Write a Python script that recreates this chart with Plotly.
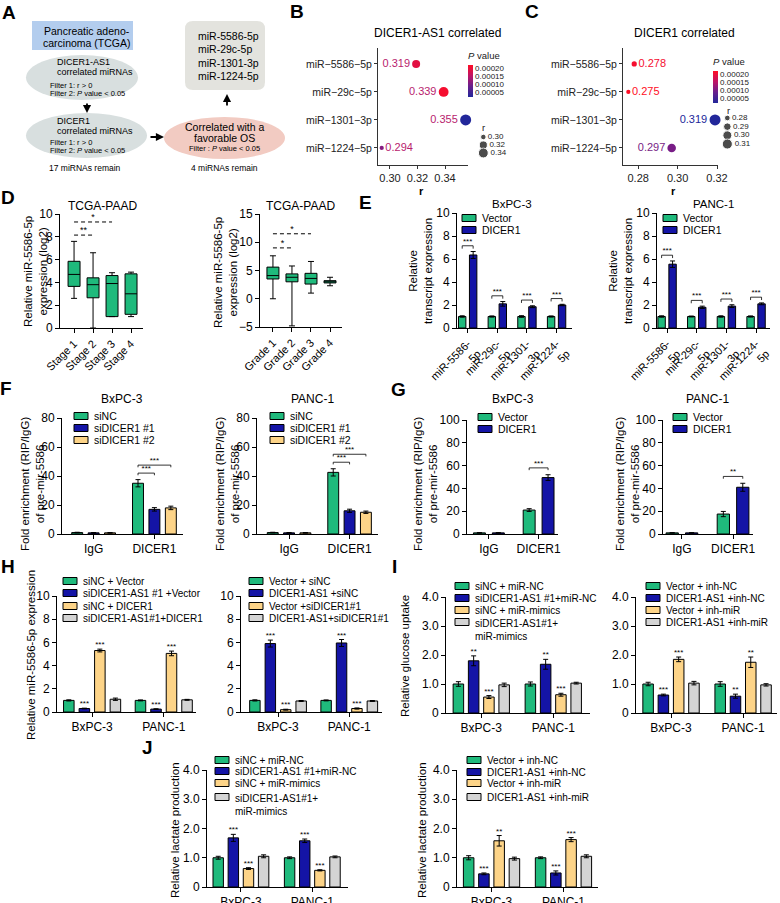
import plotly.graph_objects as go

FONT = "Liberation Sans, Arial, sans-serif"
W, H = 780, 903
GREEN = "#1fba7c"
NAVY = "#1414a6"
YELLOW = "#fdd488"
GRAY = "#d4d4d4"

# ---------------- data ----------------
# B / C dot plots
mirs = ["miR−5586−5p", "miR−29c−5p", "miR−1301−3p", "miR−1224−5p"]
b_r = [0.319, 0.339, 0.355, 0.294]
b_p = [0.00019, 0.00021, 0.00002, 0.00011]
b_size_legend = [0.30, 0.32, 0.34]
c_r = [0.278, 0.275, 0.319, 0.297]
c_p = [0.00021, 0.00022, 0.00002, 0.00010]
c_size_legend = [0.28, 0.29, 0.30, 0.31]
p_ticks = [0.00005, 0.00010, 0.00015, 0.00020]

# D box plots
stages = ["Stage 1", "Stage 2", "Stage 3", "Stage 4"]
st_low = [2.6, 0.0, 1.0, 1.0]
st_q1 = [3.65, 2.65, 1.0, 1.2]
st_med = [4.7, 3.8, 3.9, 3.0]
st_q3 = [5.85, 4.4, 4.6, 4.75]
st_high = [7.6, 6.6, 4.85, 4.9]
grades = ["Grade 1", "Grade 2", "Grade 3", "Grade 4"]
gr_low = [0.0, -4.8, 1.0, 2.3]
gr_q1 = [3.5, 3.0, 2.6, 2.8]
gr_med = [4.1, 3.8, 3.6, 3.0]
gr_q3 = [5.6, 4.4, 4.5, 3.2]
gr_high = [7.6, 5.8, 6.6, 3.8]

# E
e_groups = ["miR-5586-<br>5p", "miR-29c-<br>5p", "miR-1301-<br>3p", "miR-1224-<br>5p"]
e_names = ["Vector", "DICER1"]
e_bx_vec = [1.0, 1.0, 1.0, 1.0]
e_bx_vec_err = [0.06, 0.05, 0.07, 0.05]
e_bx_dic = [6.35, 2.1, 1.85, 2.0]
e_bx_dic_err = [0.3, 0.2, 0.08, 0.06]
e_pa_vec = [1.0, 1.0, 1.0, 1.0]
e_pa_vec_err = [0.06, 0.04, 0.06, 0.05]
e_pa_dic = [5.55, 1.8, 1.9, 2.1]
e_pa_dic_err = [0.28, 0.1, 0.12, 0.08]

# F
rip_groups = ["IgG", "DICER1"]
f_names = ["siNC", "siDICER1 #1", "siDICER1 #2"]
f_bx = [[1.0, 35.0], [0.8, 17.0], [0.8, 18.0]]
f_bx_err = [[0.2, 2.5], [0.2, 1.2], [0.2, 1.2]]
f_pa = [[1.0, 42.5], [0.8, 16.0], [0.8, 15.0]]
f_pa_err = [[0.2, 2.5], [0.2, 1.1], [0.2, 0.8]]

# G
g_names = ["Vector", "DICER1"]
g_bx = [[1.0, 21.0], [1.0, 49.5]]
g_bx_err = [[0.2, 1.2], [0.2, 2.5]]
g_pa = [[1.0, 17.5], [1.0, 41.0]]
g_pa_err = [[0.2, 2.3], [0.2, 3.5]]

cells = ["BxPC-3", "PANC-1"]
# H
h1_names = ["siNC + Vector", "siDICER1-AS1 #1 +Vector", "siNC + DICER1", "siDICER1-AS1#1+DICER1"]
h1_vals = [[1.0, 1.0], [0.3, 0.25], [5.3, 5.05], [1.1, 1.05]]
h1_err = [[0.05, 0.04], [0.03, 0.03], [0.12, 0.2], [0.1, 0.04]]
h1_stars = [["", ""], ["***", "***"], ["***", "***"], ["", ""]]
h2_names = ["Vector + siNC", "DICER1-AS1 +siNC", "Vector +siDICER1#1", "DICER1-AS1+siDICER1#1"]
h2_vals = [[1.0, 1.0], [5.9, 5.95], [0.2, 0.3], [0.95, 0.95]]
h2_err = [[0.05, 0.04], [0.3, 0.3], [0.04, 0.05], [0.04, 0.04]]
h2_stars = [["", ""], ["***", "***"], ["***", "***"], ["", ""]]
# I
mimic_names = ["siNC + miR-NC", "siDICER1-AS1 #1+miR-NC", "siNC + miR-mimics", "siDICER1-AS1#1+<br>miR-mimics"]
inh_names = ["Vector + inh-NC", "DICER1-AS1 +inh-NC", "Vector + inh-miR", "DICER1-AS1 +inh-miR"]
i1_vals = [[1.0, 1.0], [1.8, 1.68], [0.55, 0.63], [0.97, 1.03]]
i1_err = [[0.08, 0.07], [0.17, 0.17], [0.05, 0.05], [0.06, 0.03]]
i1_stars = [["", ""], ["**", "**"], ["***", "***"], ["", ""]]
i2_vals = [[1.0, 1.0], [0.62, 0.58], [1.85, 1.75], [1.03, 0.97]]
i2_err = [[0.06, 0.08], [0.03, 0.07], [0.08, 0.18], [0.06, 0.04]]
i2_stars = [["", ""], ["***", "**"], ["***", "**"], ["", ""]]
# J
j1_vals = [[1.0, 1.0], [1.68, 1.58], [0.63, 0.57], [1.05, 1.03]]
j1_err = [[0.05, 0.03], [0.12, 0.06], [0.03, 0.02], [0.05, 0.03]]
j1_stars = [["", ""], ["***", "***"], ["***", "***"], ["", ""]]
j2_vals = [[1.0, 1.0], [0.45, 0.48], [1.58, 1.62], [0.97, 1.05]]
j2_err = [[0.07, 0.03], [0.03, 0.07], [0.18, 0.07], [0.05, 0.05]]
j2_stars = [["", ""], ["***", "***"], ["**", "***"], ["", ""]]

# ---------------- helpers ----------------
fig = go.Figure()
L = {}
shapes = []
annotations = []
counter = [0]


def px(x):
    return x / W


def py(y):
    return 1 - y / H


def axes(x0, x1, ytop, ybot, xr, yr, xkw=None, ykw=None):
    counter[0] += 1
    n = "" if counter[0] == 1 else str(counter[0])
    base = dict(showgrid=False, zeroline=False, showline=True, linecolor="black", linewidth=1,
                ticks="outside", ticklen=4, tickwidth=1, tickcolor="black", automargin=False,
                tickfont=dict(size=12, color="black", family=FONT), fixedrange=True)
    xa = dict(base, domain=[px(x0), px(x1)], range=xr, anchor="y" + n)
    ya = dict(base, domain=[py(ybot), py(ytop)], range=yr, anchor="x" + n)
    if xkw:
        xa.update(xkw)
    if ykw:
        ya.update(ykw)
    L["xaxis" + n] = xa
    L["yaxis" + n] = ya
    return "x" + n, "y" + n


def txt(x, y, s, size=10, color="black", xanchor="center", yanchor="middle", angle=0, bold=False, align="center"):
    if bold:
        s = "<b>" + s + "</b>"
    annotations.append(dict(x=px(x), y=py(y), xref="paper", yref="paper", text=s, showarrow=False,
                            xanchor=xanchor, yanchor=yanchor, textangle=angle, align=align,
                            font=dict(size=size, color=color, family=FONT)))


def legend(xs, rows, labels, colors, size=10):
    for yc, lab, col in zip(rows, labels, colors):
        shapes.append(dict(type="rect", xref="paper", yref="paper", x0=px(xs), x1=px(xs + 14),
                           y0=py(yc + 3.5), y1=py(yc - 3.5), fillcolor=col,
                           line=dict(color="black", width=1)))
        if "<br>" in lab:
            txt(xs + 18, yc - size * 0.5 - 1, lab, size, xanchor="left", yanchor="top", align="left")
        else:
            txt(xs + 18, yc, lab, size, xanchor="left")


def bar_panel(box, xr, ymax, yticks, yticktext, groups, series, errs, colors, width, offsets,
              stars=None, tickangle=0, xfont=12):
    x0, x1, ytop, ybot = box
    pos = list(range(len(groups)))
    xa, ya = axes(x0, x1, ytop, ybot, xr, [0, ymax],
                  xkw=dict(tickvals=pos, ticktext=groups, tickangle=tickangle,
                           tickfont=dict(size=xfont, color="black", family=FONT)),
                  ykw=dict(tickvals=yticks, ticktext=yticktext))
    for k, (vals, er, col) in enumerate(zip(series, errs, colors)):
        fig.add_trace(go.Bar(x=pos, y=vals, width=width, offset=offsets[k] - width / 2,
                             marker=dict(color=col, line=dict(color="black", width=1)),
                             error_y=dict(type="data", array=er, visible=True, color="black",
                                          thickness=1, width=2.5),
                             xaxis=xa, yaxis=ya, showlegend=False, hoverinfo="skip"))
        if stars and any(stars[k]):
            fig.add_trace(go.Scatter(x=[p + offsets[k] for p in pos],
                                     y=[v + e for v, e in zip(vals, er)],
                                     mode="text", text=stars[k], textposition="top center",
                                     textfont=dict(size=8, color="black", family=FONT),
                                     xaxis=xa, yaxis=ya, showlegend=False, hoverinfo="skip"))
    return xa, ya


def bracket(xa, ya, xa_pos, xb_pos, h, d, label):
    fig.add_trace(go.Scatter(x=[xa_pos, xa_pos, xb_pos, xb_pos], y=[h - d, h, h, h - d], mode="lines",
                             line=dict(color="black", width=0.8), xaxis=xa, yaxis=ya,
                             showlegend=False, hoverinfo="skip"))
    fig.add_trace(go.Scatter(x=[(xa_pos + xb_pos) / 2], y=[h], mode="text", text=[label],
                             textposition="top center", textfont=dict(size=8, color="black", family=FONT),
                             xaxis=xa, yaxis=ya, showlegend=False, hoverinfo="skip"))


# colour scale for P value
CS = [[0.0, "#22279a"], [0.35, "#6a1f8c"], [0.65, "#bb1468"], [1.0, "#ff0d25"]]
PMIN, PMAX = 0.00002, 0.00022


def cs_color(p):
    t = (p - PMIN) / (PMAX - PMIN)
    t = max(0, min(1, t))
    for (a, ca), (b, cb) in zip(CS[:-1], CS[1:]):
        if a <= t <= b:
            f = (t - a) / (b - a)
            c1 = [int(ca[i:i + 2], 16) for i in (1, 3, 5)]
            c2 = [int(cb[i:i + 2], 16) for i in (1, 3, 5)]
            c = [round(u + (v - u) * f) for u, v in zip(c1, c2)]
            return "#%02x%02x%02x" % tuple(c)
    return CS[-1][1]


def size_scale(r, r0, r1, dmin=2.0, dmax=11.0):
    return dmin + (dmax - dmin) * max(0, (r - r0) / (r1 - r0)) ** 0.5


# ---------------- Panel A (flow chart) ----------------
shapes.append(dict(type="rect", xref="paper", yref="paper", x0=px(32), x1=px(133), y0=py(50), y1=py(21),
                   fillcolor="#b3cdee", line=dict(width=0)))
txt(87, 31, "Pancreatic adeno-", 10.5)
txt(87, 43, "carcinoma (TCGA)", 10.5)
shapes.append(dict(type="circle", xref="paper", yref="paper", x0=px(26), x1=px(138), y0=py(100), y1=py(55),
                   fillcolor="#d8dfdf", line=dict(width=0)))
txt(55, 62, "DICER1-AS1", 9, xanchor="left")
txt(55, 72, "correlated miRNAs", 9, xanchor="left")
txt(48, 85, "Filter 1: r > 0", 7.5, xanchor="left")
txt(48, 93, "Filter 2: <i>P</i> value < 0.05", 7.5, xanchor="left")
shapes.append(dict(type="circle", xref="paper", yref="paper", x0=px(26), x1=px(147), y0=py(158), y1=py(113),
                   fillcolor="#d8dfdf", line=dict(width=0)))
txt(55, 121, "DICER1", 9, xanchor="left")
txt(55, 131, "correlated miRNAs", 9, xanchor="left")
txt(48, 143, "Filter 1: r > 0", 7.5, xanchor="left")
txt(48, 151, "Filter 2: <i>P</i> value < 0.05", 7.5, xanchor="left")
txt(85, 168, "17 miRNAs remain", 8.5)
shapes.append(dict(type="circle", xref="paper", yref="paper", x0=px(164), x1=px(285), y0=py(159), y1=py(117),
                   fillcolor="#f2cbc2", line=dict(width=0)))
txt(225, 127, "Correlated with a", 10.5)
txt(225, 138, "favorable OS", 10.5)
txt(225, 148, "Filter : <i>P</i> value < 0.05", 7.5)
txt(225, 168, "4 miRNAs remain", 8.5)
x0, x1, y0, y1, r = px(185), px(265), py(90), py(21), 8
rx, ry = r / W, r / H
shapes.append(dict(type="path", xref="paper", yref="paper",
                   path=(f"M {x0 + rx} {y1} L {x1 - rx} {y1} Q {x1} {y1} {x1} {y1 - ry} "
                         f"L {x1} {y0 + ry} Q {x1} {y0} {x1 - rx} {y0} L {x0 + rx} {y0} "
                         f"Q {x0} {y0} {x0} {y0 + ry} L {x0} {y1 - ry} Q {x0} {y1} {x0 + rx} {y1} Z"),
                   fillcolor="#e3e3de", line=dict(width=0)))
for i, m in enumerate(["miR-5586-5p", "miR-29c-5p", "miR-1301-3p", "miR-1224-5p"]):
    txt(196, 36 + 13.4 * i, m, 10.5, xanchor="left")
for (xh, yh, ax_, ay_) in [(87, 113, 0, -11), (164, 137, -15, 0), (227, 94, 0, 13)]:
    annotations.append(dict(x=px(xh), y=py(yh), xref="paper", yref="paper", ax=ax_, ay=ay_, text="",
                            showarrow=True, arrowhead=2, arrowsize=0.9, arrowwidth=1.8, arrowcolor="black"))

# ---------------- Panel B ----------------
dot_ax = dict(linecolor="#333", tickcolor="#333", ticklen=3)


def pbar(xc_, yc_):
    return dict(x=px(xc_), xanchor="left", y=py(yc_), yanchor="middle", len=48,
                lenmode="pixels", thickness=5, thicknessmode="pixels", xpad=0, ypad=0, outlinewidth=0,
                tickvals=p_ticks, ticktext=[f"{v:.5f}" for v in p_ticks],
                tickfont=dict(size=8, color="#222", family=FONT),
                title=dict(text="<i>P</i> value", side="top", font=dict(size=9.5, color="#222", family=FONT)))


xb, yb = axes(378, 468, 48, 165, [0.2913, 0.3567], [-0.61, 3.57],
              xkw=dict(dot_ax, tickvals=[0.30, 0.32, 0.34], tickformat=".2f",
                       tickfont=dict(size=11, color="#222", family=FONT)),
              ykw=dict(dot_ax, type="category", categoryorder="array", categoryarray=mirs[::-1],
                       tickfont=dict(size=10.5, color="#222", family=FONT)))
fig.add_trace(go.Scatter(
    x=b_r, y=mirs, mode="markers+text", text=[f"{v:.3f}" for v in b_r],
    textposition=["middle left", "middle left", "middle left", "middle right"],
    textfont=dict(size=11, color="#b81c6e", family=FONT),
    marker=dict(size=[size_scale(v, 0.29, 0.355) for v in b_r], color=b_p, colorscale=CS, opacity=1,
                cmin=PMIN, cmax=PMAX, line=dict(width=0), showscale=True, colorbar=pbar(468, 73)),
    xaxis=xb, yaxis=yb, showlegend=False, hoverinfo="skip", cliponaxis=False))
txt(437, 33, "DICER1-AS1 correlated", 12)
txt(421, 191, "r", 11, bold=True)
xbl, ybl = axes(478, 510, 133, 157, [-1, 5], [0.35, 0.29],
                xkw=dict(visible=False), ykw=dict(visible=False))
fig.add_trace(go.Scatter(x=[0] * len(b_size_legend), y=b_size_legend, mode="markers+text",
                         text=[f"{v:.2f}" for v in b_size_legend], textposition="middle right",
                         textfont=dict(size=8, color="#222", family=FONT),
                         marker=dict(color="black", size=[size_scale(v, 0.29, 0.355) for v in b_size_legend]),
                         xaxis=xbl, yaxis=ybl, showlegend=False, hoverinfo="skip", cliponaxis=False))
txt(483, 127, "r", 9.5, color="#222")

# ---------------- Panel C ----------------
xc, yc = axes(623, 718, 48, 165, [0.2723, 0.3205], [-0.61, 3.57],
              xkw=dict(dot_ax, tickvals=[0.28, 0.30, 0.32], tickformat=".2f",
                       tickfont=dict(size=11, color="#222", family=FONT)),
              ykw=dict(dot_ax, type="category", categoryorder="array", categoryarray=mirs[::-1],
                       tickfont=dict(size=10.5, color="#222", family=FONT)))
fig.add_trace(go.Scatter(
    x=c_r, y=mirs, mode="markers+text", text=[f"{v:.3f}" for v in c_r],
    textposition=["middle right", "middle right", "middle left", "middle left"],
    textfont=dict(size=11, color=[cs_color(p) for p in c_p], family=FONT),
    marker=dict(size=[size_scale(v, 0.272, 0.319) for v in c_r], color=c_p, colorscale=CS, opacity=1,
                cmin=PMIN, cmax=PMAX, line=dict(width=0), showscale=True, colorbar=pbar(713, 79)),
    xaxis=xc, yaxis=yc, showlegend=False, hoverinfo="skip", cliponaxis=False))
txt(684, 33, "DICER1 correlated", 12)
txt(673, 191, "r", 11, bold=True)
xcl, ycl = axes(722, 754, 114, 148, [-1, 5], [0.3146, 0.2754],
                xkw=dict(visible=False), ykw=dict(visible=False))
fig.add_trace(go.Scatter(x=[0] * len(c_size_legend), y=c_size_legend, mode="markers+text",
                         text=[f"{v:.2f}" for v in c_size_legend], textposition="middle right",
                         textfont=dict(size=8, color="#222", family=FONT),
                         marker=dict(color="black", size=[size_scale(v, 0.272, 0.319) for v in c_size_legend]),
                         xaxis=xcl, yaxis=ycl, showlegend=False, hoverinfo="skip", cliponaxis=False))
txt(728, 110, "r", 9.5, color="#222")


# ---------------- Panel D ----------------
def box_panel(box, xr, yr, yticks, cats, low, q1, med, q3, high, sigs):
    x0, x1, ytop, ybot = box
    pos = list(range(len(cats)))
    xa, ya = axes(x0, x1, ytop, ybot, xr, yr,
                  xkw=dict(tickvals=pos, ticktext=cats, tickangle=-45,
                           tickfont=dict(size=11, color="black", family=FONT)),
                  ykw=dict(tickvals=yticks))
    fig.add_trace(go.Box(x=pos, q1=q1, median=med, q3=q3, lowerfence=low, upperfence=high,
                         fillcolor=GREEN, line=dict(color="black", width=1), width=0.63,
                         whiskerwidth=0.5, boxpoints=False, xaxis=xa, yaxis=ya,
                         showlegend=False, hoverinfo="skip"))
    for (a, b, h, lab) in sigs:
        fig.add_trace(go.Scatter(x=[a, b], y=[h, h], mode="lines",
                                 line=dict(color="black", width=1, dash="4px,3px"),
                                 xaxis=xa, yaxis=ya, showlegend=False, hoverinfo="skip"))
        fig.add_trace(go.Scatter(x=[(a + b) / 2], y=[h], mode="text", text=[lab], textposition="top center",
                                 textfont=dict(size=9, color="black", family=FONT),
                                 xaxis=xa, yaxis=ya, showlegend=False, hoverinfo="skip"))


box_panel((60, 143, 214, 328), [-0.74, 3.63], [0, 10], [0, 2, 4, 6, 8, 10], stages,
          st_low, st_q1, st_med, st_q3, st_high, [(0, 1, 8.15, "**"), (0, 2, 9.3, "*")])
txt(102, 206, "TCGA-PAAD", 12)
txt(35, 272, "Relative miR-5586-5p<br>expression (log2)", 11.5, angle=-90)
box_panel((260, 342, 214, 327), [-0.68, 3.63], [-5, 15], [-5, 0, 5, 10, 15], grades,
          gr_low, gr_q1, gr_med, gr_q3, gr_high, [(0, 1, 9.0, "*"), (0, 2, 11.5, "*")])
txt(300, 206, "TCGA-PAAD", 12)
txt(225, 272, "Relative miR-5586-5p<br>expression (log2)", 11.5, angle=-90)

# ---------------- Panel E ----------------
e_off = [-0.185, 0.185]
for (box, xr, vec, vec_e, dic, dic_e, title, tx, ytx, lgx) in [
        ((457, 572, 213, 328), [-0.36, 3.52], e_bx_vec, e_bx_vec_err, e_bx_dic, e_bx_dic_err, "BxPC-3", 512, 421, 462),
        ((657, 770, 213, 328), [-0.34, 3.47], e_pa_vec, e_pa_vec_err, e_pa_dic, e_pa_dic_err, "PANC-1", 713, 621, 663)]:
    xa, ya = bar_panel(box, xr, 10, [0, 2, 4, 6, 8, 10], ["0", "2", "4", "6", "8", "10"], e_groups,
                       [vec, dic], [vec_e, dic_e], [GREEN, NAVY], 0.25, e_off, tickangle=-45, xfont=11)
    for gi in range(len(e_groups)):
        top = max(vec[gi] + vec_e[gi], dic[gi] + dic_e[gi])
        bracket(xa, ya, gi + e_off[0], gi + e_off[1], top + 0.5, 0.25, "***")
    txt(tx, 204, title, 11.5)
    txt(ytx, 271, "Relative<br>transcript expression", 11.5, angle=-90)
    legend(lgx, [218, 230], e_names, [GREEN, NAVY], size=10.5)

# ---------------- Panel F ----------------
f_off = [-0.27, 0.0, 0.27]
for (box, xr, vals, errs, title, tx, ytx, lgx) in [
        ((62, 183, 418, 534), [-0.52, 1.47], f_bx, f_bx_err, "BxPC-3", 122, 32, 74),
        ((257, 378, 418, 534), [-0.53, 1.47], f_pa, f_pa_err, "PANC-1", 312, 227, 270)]:
    xa, ya = bar_panel(box, xr, 80, [0, 20, 40, 60, 80], ["0", "20", "40", "60", "80"], rip_groups,
                       vals, errs, [GREEN, NAVY, YELLOW], 0.18, f_off)
    top = vals[0][1] + errs[0][1]
    bracket(xa, ya, 1 + f_off[0], 1 + f_off[1], top + 4.5, 1.5, "***")
    bracket(xa, ya, 1 + f_off[0], 1 + f_off[2], top + 10, 1.5, "***")
    txt(tx, 399, title, 12)
    txt(ytx, 484, "Fold enrichment (RIP/IgG)<br>of pre-mir-5586", 11.5, angle=-90)
    legend(lgx, [416, 428, 440], f_names, [GREEN, NAVY, YELLOW], size=10.5)

# ---------------- Panel G ----------------
g_off = [-0.19, 0.19]
for (box, xr, vals, errs, title, tx, ytx, lgx, lab) in [
        ((467, 558, 420, 534), [-0.44, 1.39], g_bx, g_bx_err, "BxPC-3", 513, 425, 478, "***"),
        ((663, 753, 420, 534), [-0.37, 1.39], g_pa, g_pa_err, "PANC-1", 707, 627, 673, "**")]:
    xa, ya = bar_panel(box, xr, 100, [0, 20, 40, 60, 80, 100], ["0", "20", "40", "60", "80", "100"],
                       rip_groups, vals, errs, [GREEN, NAVY], 0.24, g_off)
    top = max(vals[0][1] + errs[0][1], vals[1][1] + errs[1][1])
    bracket(xa, ya, 1 + g_off[0], 1 + g_off[1], top + 6, 2, lab)
    txt(tx, 399, title, 12)
    txt(ytx, 484, "Fold enrichment (RIP/IgG)<br>of pre-mir-5586", 11.5, angle=-90)
    legend(lgx, [417, 429], g_names, [GREEN, NAVY], size=10.5)

# ---------------- Panels H, I, J ----------------
four_cols = [GREEN, NAVY, YELLOW, GRAY]
q_off = [-0.325, -0.108, 0.108, 0.325]
bar_panel((57, 196, 596, 712), [-0.49, 1.45], 10, [0, 2, 4, 6, 8, 10], ["0", "2", "4", "6", "8", "10"],
          cells, h1_vals, h1_err, four_cols, 0.147, q_off, stars=h1_stars)
legend(63, [581, 593, 606, 618], h1_names, four_cols, size=10)
bar_panel((241, 382, 596, 712), [-0.52, 1.46], 10, [0, 2, 4, 6, 8, 10], ["0", "2", "4", "6", "8", "10"],
          cells, h2_vals, h2_err, four_cols, 0.147, q_off, stars=h2_stars)
legend(249, [581, 593, 606, 618], h2_names, four_cols, size=10)
txt(31, 655, "Relative miR-5586-5p expression", 11.5, angle=-90)

dec_ticks = [0, 1, 2, 3, 4]
dec_text = ["0", "1.0", "2.0", "3.0", "4.0"]
i_off = [-0.318, -0.106, 0.106, 0.318]
bar_panel((446, 590, 597, 713), [-0.49, 1.51], 4, dec_ticks, dec_text,
          cells, i1_vals, i1_err, four_cols, 0.146, i_off, stars=i1_stars)
legend(455, [586, 598, 610, 622], mimic_names, four_cols, size=10)
bar_panel((636, 777, 597, 713), [-0.486, 1.47], 4, dec_ticks, dec_text,
          cells, i2_vals, i2_err, four_cols, 0.146, i_off, stars=i2_stars)
legend(646, [586, 598, 610, 622], inh_names, four_cols, size=10)
txt(405, 656, "Relative glucose uptake", 11.5, angle=-90)

bar_panel((207, 348, 770, 887), [-0.475, 1.5], 4, dec_ticks, dec_text,
          cells, j1_vals, j1_err, four_cols, 0.146, i_off, stars=j1_stars)
legend(215, [760, 771, 783, 797], mimic_names, four_cols, size=10)
txt(175, 830, "Relative lactate production", 11.5, angle=-90)
bar_panel((457, 598, 770, 887), [-0.48, 1.48], 4, dec_ticks, dec_text,
          cells, j2_vals, j2_err, four_cols, 0.146, i_off, stars=j2_stars)
legend(467, [760, 772, 783, 797], inh_names, four_cols, size=10)
txt(422, 830, "Relative lactate production", 11.5, angle=-90)

# ---------------- panel letters ----------------
for (lx, ly, lt) in [(9, 13, "A"), (297, 12, "B"), (532, 12, "C"), (8, 197, "D"), (365, 202, "E"),
                     (6, 388, "F"), (398, 390, "G"), (8, 566, "H"), (394, 566, "I"), (147, 747, "J")]:
    txt(lx, ly, lt, 19, bold=True)

fig.update_layout(width=W, height=H, margin=dict(l=0, r=0, t=0, b=0, pad=0, autoexpand=False),
                  paper_bgcolor="white",
                  plot_bgcolor="rgba(0,0,0,0)", barmode="overlay", showlegend=False,
                  font=dict(family=FONT, color="black"), shapes=shapes, annotations=annotations, **L)
fig.write_html("out.html", config={"displayModeBar": False, "staticPlot": True},
               post_script="document.body.style.margin='0px';document.body.style.padding='0px';"
                           "document.body.style.overflow='hidden';")
